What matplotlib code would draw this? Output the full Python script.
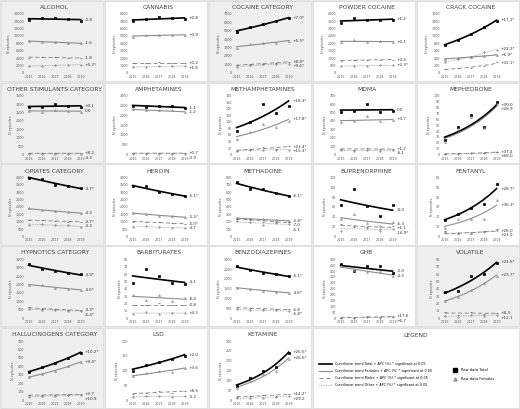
import numpy as np
import matplotlib
matplotlib.use("Agg")
import matplotlib.pyplot as plt
from matplotlib.lines import Line2D
from matplotlib.patches import Rectangle

years = [2015, 2016, 2017, 2018, 2019]

# series per panel: [total, s2, s3, s4]
alcohol = [[14300, 15000, 14800, 14600, 14200], [8600, 8500, 8300, 8200, 8000],
           [4100, 4400, 4200, 4000, 4000], [1800, 1900, 2100, 2100, 2200]]
cannabis = [[7000, 7300, 7600, 7400, 7300], [4900, 5100, 5200, 5100, 5100],
            [1300, 1300, 1400, 1300, 1300], [800, 800, 900, 900, 900]]
cocaine_cat = [[4900, 5400, 5800, 6100, 6500], [3000, 3400, 3500, 3600, 3800],
               [900, 1000, 1100, 1200, 1300], [700, 900, 1000, 1000, 1100]]
powder = [[3400, 3700, 3600, 3600, 3600], [2100, 2200, 2100, 2150, 2100],
          [800, 900, 900, 850, 900], [450, 480, 480, 500, 500]]
crack = [[750, 900, 1050, 1250, 1400], [380, 390, 440, 460, 480],
         [100, 120, 130, 180, 300], [280, 380, 420, 560, 620]]
other_stim = [[2850, 2800, 3000, 2900, 2850], [2600, 2550, 2650, 2600, 2550],
              [80, 70, 90, 80, 80], [50, 40, 60, 50, 50]]
amphet = [[2500, 2450, 2480, 2480, 2350], [2300, 2250, 2250, 2250, 2150],
          [80, 60, 90, 70, 70], [50, 40, 50, 50, 50]]
metham = [[72, 100, 155, 128, 150], [48, 70, 95, 83, 102],
          [12, 18, 22, 18, 25], [10, 15, 15, 15, 15]]
mdma = [[510, 520, 600, 510, 520], [390, 400, 460, 395, 410],
        [70, 60, 75, 65, 65], [50, 45, 55, 40, 50]]
mephedrone = [[24, 47, 67, 47, 89], [22, 44, 64, 45, 86],
              [1, 2, 3, 2, 5], [1, 1, 2, 2, 4]]
opiates = [[4000, 3900, 3500, 3400, 3300], [1900, 1800, 1700, 1650, 1600],
           [1100, 1100, 1050, 1000, 1000], [800, 850, 750, 750, 650]]
heroin = [[3400, 3400, 3000, 2900, 2750], [1600, 1500, 1400, 1400, 1300],
          [1000, 1000, 950, 900, 850], [650, 700, 650, 600, 550]]
methadone = [[740, 640, 640, 590, 550], [250, 230, 240, 220, 210],
             [240, 230, 200, 200, 190], [210, 190, 150, 180, 170]]
bupren = [[63, 97, 62, 42, 63], [35, 45, 28, 22, 30],
          [25, 20, 20, 15, 22], [12, 22, 18, 10, 15]]
fentanyl = [[17, 23, 29, 33, 53], [9, 18, 18, 18, 37],
            [5, 2, 2, 5, 8], [4, 3, 3, 4, 7]]
hypnotics = [[3200, 2950, 2800, 2700, 2600], [2000, 1950, 1800, 1750, 1700],
             [650, 550, 520, 500, 480], [550, 500, 480, 450, 430]]
barbit = [[48, 67, 58, 48, 46], [32, 25, 32, 23, 28],
          [18, 18, 20, 18, 18], [6, 9, 6, 7, 7]]
benzo = [[2650, 2450, 2300, 2250, 2150], [1550, 1500, 1400, 1350, 1300],
         [550, 500, 480, 450, 450], [450, 400, 400, 400, 350]]
ghb = [[460, 400, 440, 440, 380], [440, 410, 390, 400, 360],
       [5, 5, 15, 10, 15], [3, 3, 8, 5, 10]]
volatile = [[35, 37, 58, 60, 75], [23, 29, 38, 48, 57],
            [8, 5, 9, 6, 7], [3, 2, 5, 3, 5]]
halluc = [[330, 390, 440, 500, 560], [270, 310, 350, 400, 450],
          [60, 55, 65, 60, 70], [40, 45, 50, 55, 60]]
lsd = [[100, 120, 130, 140, 150], [80, 90, 100, 95, 110],
       [20, 25, 30, 25, 30], [10, 15, 12, 10, 12]]
ketamine = [[70, 110, 150, 170, 240], [60, 95, 130, 150, 210],
            [15, 20, 25, 22, 30], [8, 10, 12, 14, 20]]

# name, ymax, ystep, grey background, series, APC labels
panels = [
    ("ALCOHOL", 16000, 2000, True, alcohol, ["-0.8", "-1.6", "-1.8", "+5.2*"]),
    ("CANNABIS", 8000, 1000, False, cannabis, ["+0.8", "+0.9", "+0.2", "+1.8"]),
    ("COCAINE CATEGORY", 7000, 1000, True, cocaine_cat, ["+7.0*", "+5.5*", "+8.8*", "+9.6*"]),
    ("POWDER COCAINE", 4000, 500, False, powder, ["+1.2", "+0.1", "+3.4", "+2.3*"]),
    ("CRACK COCAINE", 1600, 200, False, crack, ["+17.1*", "+6.9*", "+32.1*", "+22.3*"]),
    ("OTHER STIMULANTS CATEGORY", 3500, 500, True, other_stim, ["+0.1", "0.0", "+8.2", "-4.3"]),
    ("AMPHETAMINES", 3000, 500, False, amphet, ["-1.1", "-1.2", "+0.7", "-3.9"]),
    ("METHAMPHETAMINES", 180, 20, False, metham, ["+18.3*", "+17.8*", "+23.4*", "+15.3*"]),
    ("MDMA", 700, 100, False, mdma, ["0.0", "+0.7", "+1.2", "-8.1"]),
    ("MEPHEDRONE", 100, 10, False, mephedrone, ["+30.0", "+28.9", "+37.4", "+68.0"]),
    ("OPIATES CATEGORY", 4000, 500, True, opiates, ["-4.7*", "-4.3", "-4.7*", "-4.3"]),
    ("HEROIN", 4000, 500, False, heroin, ["-5.1*", "-5.5*", "-5.0*", "-4.7"]),
    ("METHADONE", 800, 100, False, methadone, ["-6.1*", "-5.8*", "-7.0", "-6.1"]),
    ("BUPRENORPHINE", 120, 20, False, bupren, ["-8.0", "-6.3", "+1.1", "-16.9*"]),
    ("FENTANYL", 60, 10, False, fentanyl, ["+28.7*", "+36.1*", "+26.0", "+21.0"]),
    ("HYPNOTICS CATEGORY", 3500, 500, True, hypnotics, ["-4.9*", "-4.6*", "-4.3*", "-6.4*"]),
    ("BARBITURATES", 80, 10, False, barbit, ["-4.1", "-8.4", "-0.8", "+4.3"]),
    ("BENZODIAZEPINES", 3000, 500, False, benzo, ["-5.1*", "-4.6*", "-6.8", "-6.8*"]),
    ("GHB", 500, 50, False, ghb, ["-3.0", "-4.3", "+17.6", "+6.7"]),
    ("VOLATILE", 80, 10, True, volatile, ["+21.5*", "+23.7*", "+8.3", "+12.1"]),
    ("HALLUCINOGENS CATEGORY", 700, 100, True, halluc, ["+10.2*", "+9.4*", "+3.7", "+10.9"]),
    ("LSD", 200, 50, False, lsd, ["+2.0", "+3.6", "+8.5", "-3.2"]),
    ("KETAMINE", 300, 50, False, ketamine, ["+26.6*", "+26.6*", "+14.2*", "+29.2"]),
]

legend_text = [
    "Curvilinear trend Total + APC (%) * significant at 0.05",
    "Curvilinear trend Females + APC (%) * significant at 0.05",
    "Curvilinear trend Males + APC (%) * significant at 0.05",
    "Curvilinear trend Other + APC (%) * significant at 0.05",
]
raw_text = ["Raw data Total", "Raw data Females"]

styles = [
    dict(color="black", lw=1.2, ls="-", marker="s", ms=1.6, mfc="black", mec="black"),
    dict(color="#8c8c8c", lw=0.8, ls="-", marker="^", ms=1.4, mfc="none", mec="#8c8c8c"),
    dict(color="#7f7f7f", lw=0.6, ls=(0, (5, 3)), marker="_", ms=1.6, mfc="none", mec="#555555"),
    dict(color="#a0a0a0", lw=0.6, ls=(0, (1, 1)), marker="o", ms=1.0, mfc="none", mec="#777777"),
]

W, H = 520, 409
fig = plt.figure(figsize=(W / 100, H / 100), dpi=100)
fig.patch.set_facecolor("#e6e6e6")

col_w = W / 5.0
row_h = H / 5.0
t = np.array(years) - years[0]
tt = np.linspace(0, 4, 40)


def panel_box(col, row, ncols=1):
    x0 = col * col_w / W
    y0 = 1 - (row + 1) * row_h / H
    return x0, y0, ncols * col_w / W, row_h / H


def background(x0, y0, w, h, grey):
    r = Rectangle((x0 + 0.002, y0 + 0.002), w - 0.004, h - 0.004,
                  transform=fig.transFigure,
                  facecolor="#efefef" if grey else "white",
                  edgecolor="#d9d9d9", lw=0.5, zorder=-10)
    fig.patches.append(r)


for i, (name, ymax, ystep, grey, series, labels) in enumerate(panels):
    row, col = divmod(i, 5)
    x0, y0, w, h = panel_box(col, row)
    background(x0, y0, w, h, grey)
    ax = fig.add_axes([x0 + w * 0.25, y0 + h * 0.11, w * 0.55, h * 0.72])
    ax.patch.set_alpha(0)
    ends = []
    for k, vals in enumerate(series):
        st = styles[k]
        v = np.array(vals, dtype=float)
        b, a = np.polyfit(t, np.log(v), 1)
        fit = np.exp(a + b * tt)
        ax.plot(years[0] + tt, fit, color=st["color"], lw=st["lw"], ls=st["ls"],
                zorder=3 - k * 0.1, clip_on=False)
        ax.plot(years, v, ls="none", marker=st["marker"], ms=st["ms"], mfc=st["mfc"],
                mec=st["mec"], mew=0.5, zorder=4, clip_on=False)
        ends.append(fit[-1])
    # spread the labels so they do not sit on top of each other
    order = np.argsort(ends)[::-1]
    ypos = {}
    last = None
    gap = ymax * 0.075
    for k in order:
        y = ends[k]
        if last is not None and last - y < gap:
            y = last - gap
        ypos[k] = y
        last = y
    for k in range(4):
        ax.text(2019.3, ypos[k], labels[k], fontsize=3.0, va="center", ha="left", color="#333333")
    ax.set_xlim(2014.8, 2019.2)
    ax.set_yticks(np.arange(0, ymax + 1, ystep))
    ax.set_ylim(0, ymax)
    ax.set_xticks(years)
    ax.tick_params(labelsize=2.4, length=0, pad=1.5, colors="#595959")
    for s in ax.spines.values():
        s.set_visible(False)
    ax.set_ylabel("N episodes", fontsize=2.4, labelpad=1.5, color="#595959")
    ax.set_title(name, fontsize=4.3, color="#404040", pad=3.5)

# legend panel
x0, y0, w, h = panel_box(3, 4, ncols=2)
background(x0, y0, w, h, False)
lax = fig.add_axes([x0, y0, w, h])
lax.axis("off")
lax.text(0.5, 0.9, "LEGEND", transform=lax.transAxes, fontsize=4.3, color="#404040",
         ha="center", va="center")
handles = [Line2D([], [], color=st["color"], lw=st["lw"], ls=st["ls"]) for st in styles]
handles += [Line2D([], [], ls="none", marker="s", ms=2.2, color="black"),
            Line2D([], [], ls="none", marker="^", ms=2.2, mfc="none", mec="#8c8c8c")]
leg1 = lax.legend(handles[:4], legend_text, loc="center left", bbox_to_anchor=(0.02, 0.42),
                  fontsize=2.4, frameon=False, handlelength=4, labelspacing=0.9)
lax.add_artist(leg1)
lax.legend(handles[4:], raw_text, loc="center left", bbox_to_anchor=(0.66, 0.42),
           fontsize=2.6, frameon=False, handlelength=1.5, labelspacing=1.2)

fig.savefig("out.png", dpi=100)
